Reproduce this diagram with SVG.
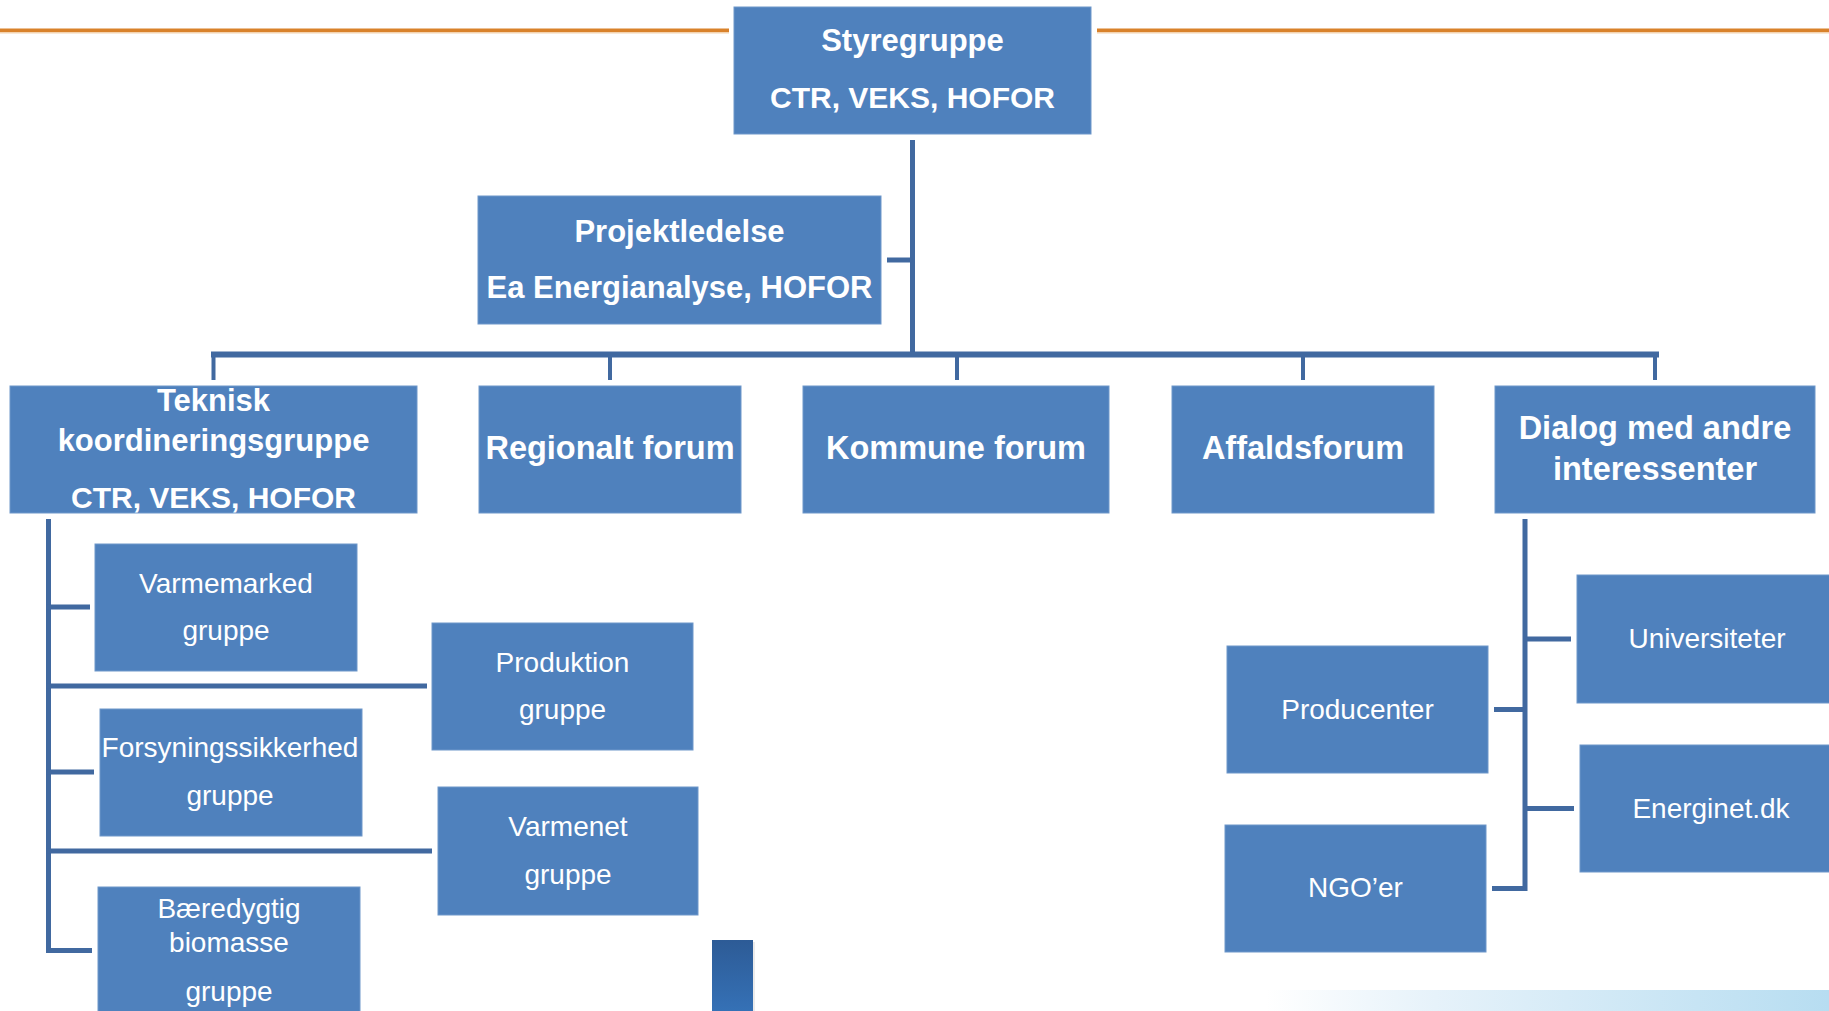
<svg xmlns="http://www.w3.org/2000/svg" width="1829" height="1011" viewBox="0 0 1829 1011">
  <style>
    .box { fill: #4F81BD; stroke: #6E97CA; stroke-width: 1; }
    .b { font-family: "Liberation Sans", Arial, sans-serif; font-weight: bold; fill: #FFFFFF; text-anchor: middle; }
    .r { font-family: "Liberation Sans", Arial, sans-serif; fill: #FFFFFF; text-anchor: middle; font-size: 28px; }
    .s31 { font-size: 31px; }
    .s30 { font-size: 30px; }
    .s32 { font-size: 32.5px; }
    .conn line { stroke: #4169A0; stroke-width: 5; stroke-linecap: butt; }
    .conn line.thin { stroke-width: 4; }
  </style>
  <defs>
    <linearGradient id="bottomGrad" x1="0" y1="0" x2="1" y2="0">
      <stop offset="0" stop-color="#FFFFFF"/>
      <stop offset="0.3" stop-color="#E6F2FA"/>
      <stop offset="1" stop-color="#B7DDF1"/>
    </linearGradient>
    <linearGradient id="barGrad" x1="0" y1="0" x2="0" y2="1">
      <stop offset="0" stop-color="#2D5B96"/>
      <stop offset="1" stop-color="#3571B6"/>
    </linearGradient>
  </defs>

  <rect x="0" y="0" width="1829" height="1011" fill="#FFFFFF"/>

  <!-- decorative orange rule -->
  <g id="header-rule">
    <rect x="0" y="28.5" width="729" height="3.5" fill="#D9822B"/>
    <rect x="0" y="32" width="729" height="1.5" fill="#F3D3B0"/>
    <rect x="1097" y="28.5" width="732" height="3.5" fill="#D9822B"/>
    <rect x="1097" y="32" width="732" height="1.5" fill="#F3D3B0"/>
  </g>

  <!-- decorative bottom elements -->
  <g id="decor">
    <rect x="1266" y="990" width="563" height="21" fill="url(#bottomGrad)"/>
    <rect x="714" y="942" width="41" height="69" fill="#000000" opacity="0.08"/>
    <rect x="712" y="940" width="41" height="71" fill="url(#barGrad)"/>
  </g>

  <!-- connectors -->
  <g id="connectors" class="conn">
    <line x1="912.5" y1="140" x2="912.5" y2="357"/>
    <line x1="887" y1="260" x2="912.5" y2="260"/>
    <line x1="211" y1="354.5" x2="1659" y2="354.5" style="stroke-width:6"/>
    <line class="thin" x1="213.5" y1="354" x2="213.5" y2="380"/>
    <line class="thin" x1="610" y1="354" x2="610" y2="380"/>
    <line class="thin" x1="957" y1="354" x2="957" y2="380"/>
    <line class="thin" x1="1303" y1="354" x2="1303" y2="380"/>
    <line class="thin" x1="1655" y1="354" x2="1655" y2="380"/>

    <line x1="48.5" y1="519" x2="48.5" y2="953"/>
    <line x1="46" y1="607" x2="90" y2="607"/>
    <line x1="46" y1="686" x2="427" y2="686"/>
    <line x1="46" y1="772" x2="94" y2="772"/>
    <line x1="46" y1="851" x2="432" y2="851"/>
    <line x1="46" y1="950.5" x2="92" y2="950.5"/>

    <line x1="1525" y1="519" x2="1525" y2="891"/>
    <line x1="1525" y1="639" x2="1571" y2="639"/>
    <line x1="1494" y1="709.5" x2="1527" y2="709.5"/>
    <line x1="1525" y1="808.5" x2="1574" y2="808.5"/>
    <line x1="1492" y1="888.5" x2="1527" y2="888.5"/>
  </g>

  <!-- nodes -->
  <g id="styregruppe">
    <rect class="box" x="734" y="7" width="357" height="127"/>
    <text class="b s31" x="912.5" y="51">Styregruppe</text>
    <text class="b s30" x="912.5" y="108">CTR, VEKS, HOFOR</text>
  </g>

  <g id="projektledelse">
    <rect class="box" x="478" y="196" width="403" height="128"/>
    <text class="b s31" x="679.5" y="242">Projektledelse</text>
    <text class="b s31" x="679.5" y="298">Ea Energianalyse, HOFOR</text>
  </g>

  <g id="teknisk">
    <rect class="box" x="10" y="386" width="407" height="127"/>
    <text class="b s31" x="213.5" y="411">Teknisk</text>
    <text class="b s31" x="213.5" y="451">koordineringsgruppe</text>
    <text class="b s30" x="213.5" y="508">CTR, VEKS, HOFOR</text>
  </g>

  <g id="regionalt">
    <rect class="box" x="479" y="386" width="262" height="127"/>
    <text class="b s32" x="610" y="459">Regionalt forum</text>
  </g>

  <g id="kommune">
    <rect class="box" x="803" y="386" width="306" height="127"/>
    <text class="b s32" x="956" y="459">Kommune forum</text>
  </g>

  <g id="affaldsforum">
    <rect class="box" x="1172" y="386" width="262" height="127"/>
    <text class="b s32" x="1303" y="459">Affaldsforum</text>
  </g>

  <g id="dialog">
    <rect class="box" x="1495" y="386" width="320" height="127"/>
    <text class="b s32" x="1655" y="439">Dialog med andre</text>
    <text class="b s32" x="1655" y="480">interessenter</text>
  </g>

  <g id="varmemarked">
    <rect class="box" x="95" y="544" width="262" height="127"/>
    <text class="r" x="226" y="593">Varmemarked</text>
    <text class="r" x="226" y="640">gruppe</text>
  </g>

  <g id="produktion">
    <rect class="box" x="432" y="623" width="261" height="127"/>
    <text class="r" x="562.5" y="672">Produktion</text>
    <text class="r" x="562.5" y="719">gruppe</text>
  </g>

  <g id="forsyningssikkerhed">
    <rect class="box" x="100" y="709" width="262" height="127"/>
    <text class="r" x="230" y="757">Forsyningssikkerhed</text>
    <text class="r" x="230" y="805">gruppe</text>
  </g>

  <g id="varmenet">
    <rect class="box" x="438" y="787" width="260" height="128"/>
    <text class="r" x="568" y="836">Varmenet</text>
    <text class="r" x="568" y="884">gruppe</text>
  </g>

  <g id="baeredygtig">
    <rect class="box" x="98" y="887" width="262" height="130"/>
    <text class="r" x="229" y="918">Bæredygtig</text>
    <text class="r" x="229" y="952">biomasse</text>
    <text class="r" x="229" y="1001">gruppe</text>
  </g>

  <g id="universiteter">
    <rect class="box" x="1577" y="575" width="262" height="128"/>
    <text class="r" x="1707" y="648">Universiteter</text>
  </g>

  <g id="producenter">
    <rect class="box" x="1227" y="646" width="261" height="127"/>
    <text class="r" x="1357.5" y="719">Producenter</text>
  </g>

  <g id="energinet">
    <rect class="box" x="1580" y="745" width="262" height="127"/>
    <text class="r" x="1711" y="818">Energinet.dk</text>
  </g>

  <g id="ngoer">
    <rect class="box" x="1225" y="825" width="261" height="127"/>
    <text class="r" x="1355.5" y="897">NGO’er</text>
  </g>
</svg>
